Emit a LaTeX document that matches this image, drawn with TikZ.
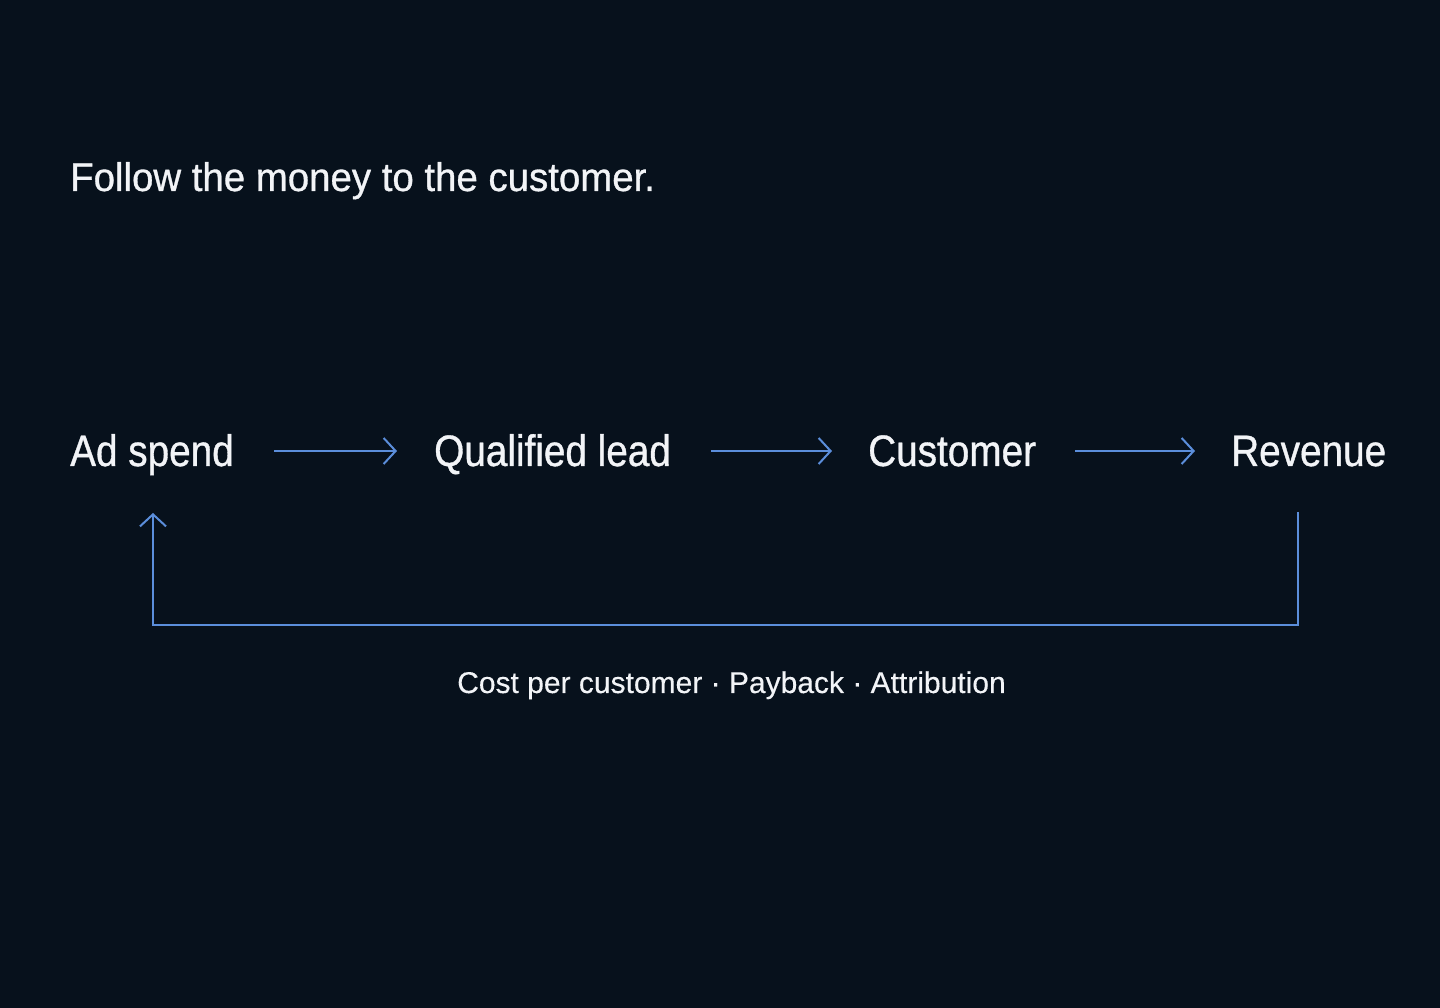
\documentclass[tikz,border=0pt]{standalone}
\usepackage{fontspec}
\setmainfont[FakeStretch=0.88]{Liberation Sans}
\newfontfamily\lblfont[FakeStretch=0.88,FakeBold=0.8]{Liberation Sans}
\newfontfamily\titlefont[FakeStretch=0.96,FakeBold=0.8]{Liberation Sans}
\newfontfamily\capfont[FakeBold=0.3]{Liberation Sans}
\usetikzlibrary{arrows.meta}
\definecolor{bg}{HTML}{07111C}
\definecolor{txt}{HTML}{F2F4F7}
\definecolor{ln}{HTML}{5B8EDB}
\tikzset{
  lbl/.style={anchor=base west, inner sep=0pt, text=txt, font=\lblfont\fontsize{44}{50}\selectfont},
  arr/.style={draw=ln, line width=2pt, -{Straight Barb[length=12pt, width=26pt, line width=2pt]}},
}
\begin{document}
\begin{tikzpicture}[x=1pt,y=1pt]
\fill[bg] (0,0) rectangle (1440,1008);
\useasboundingbox (0,0) rectangle (1440,1008);
\node[anchor=base west, inner sep=0pt, text=txt, font=\titlefont\fontsize{40}{46}\selectfont] (title) at (70,1008-191) {Follow the money to the customer.};
\node[lbl] (ad) at (70,1008-466) {Ad spend};
\node[lbl] (lead) at (434,1008-466) {Qualified lead};
\node[lbl] (cust) at (868,1008-466) {Customer};
\node[lbl] (rev) at (1231,1008-466) {Revenue};
\draw[arr] ([xshift=40]ad.east |- 0,1008-451) -- (397,1008-451);
\draw[arr] (711,1008-451) -- (832,1008-451);
\draw[arr] (1075,1008-451) -- (1195,1008-451);
\coordinate (fbs) at (1298,1008-512);
\coordinate (fbe) at (153,1008-513);
\draw[arr] (fbs) -- (1298,1008-625) -- (153,1008-625) -- (fbe);
\node[anchor=base, inner sep=0pt, text=txt, font=\capfont\fontsize{30}{36}\selectfont] (cap) at (731.5,1008-693) {Cost per customer \textperiodcentered{} Payback \textperiodcentered{} Attribution};
\end{tikzpicture}
\end{document}
